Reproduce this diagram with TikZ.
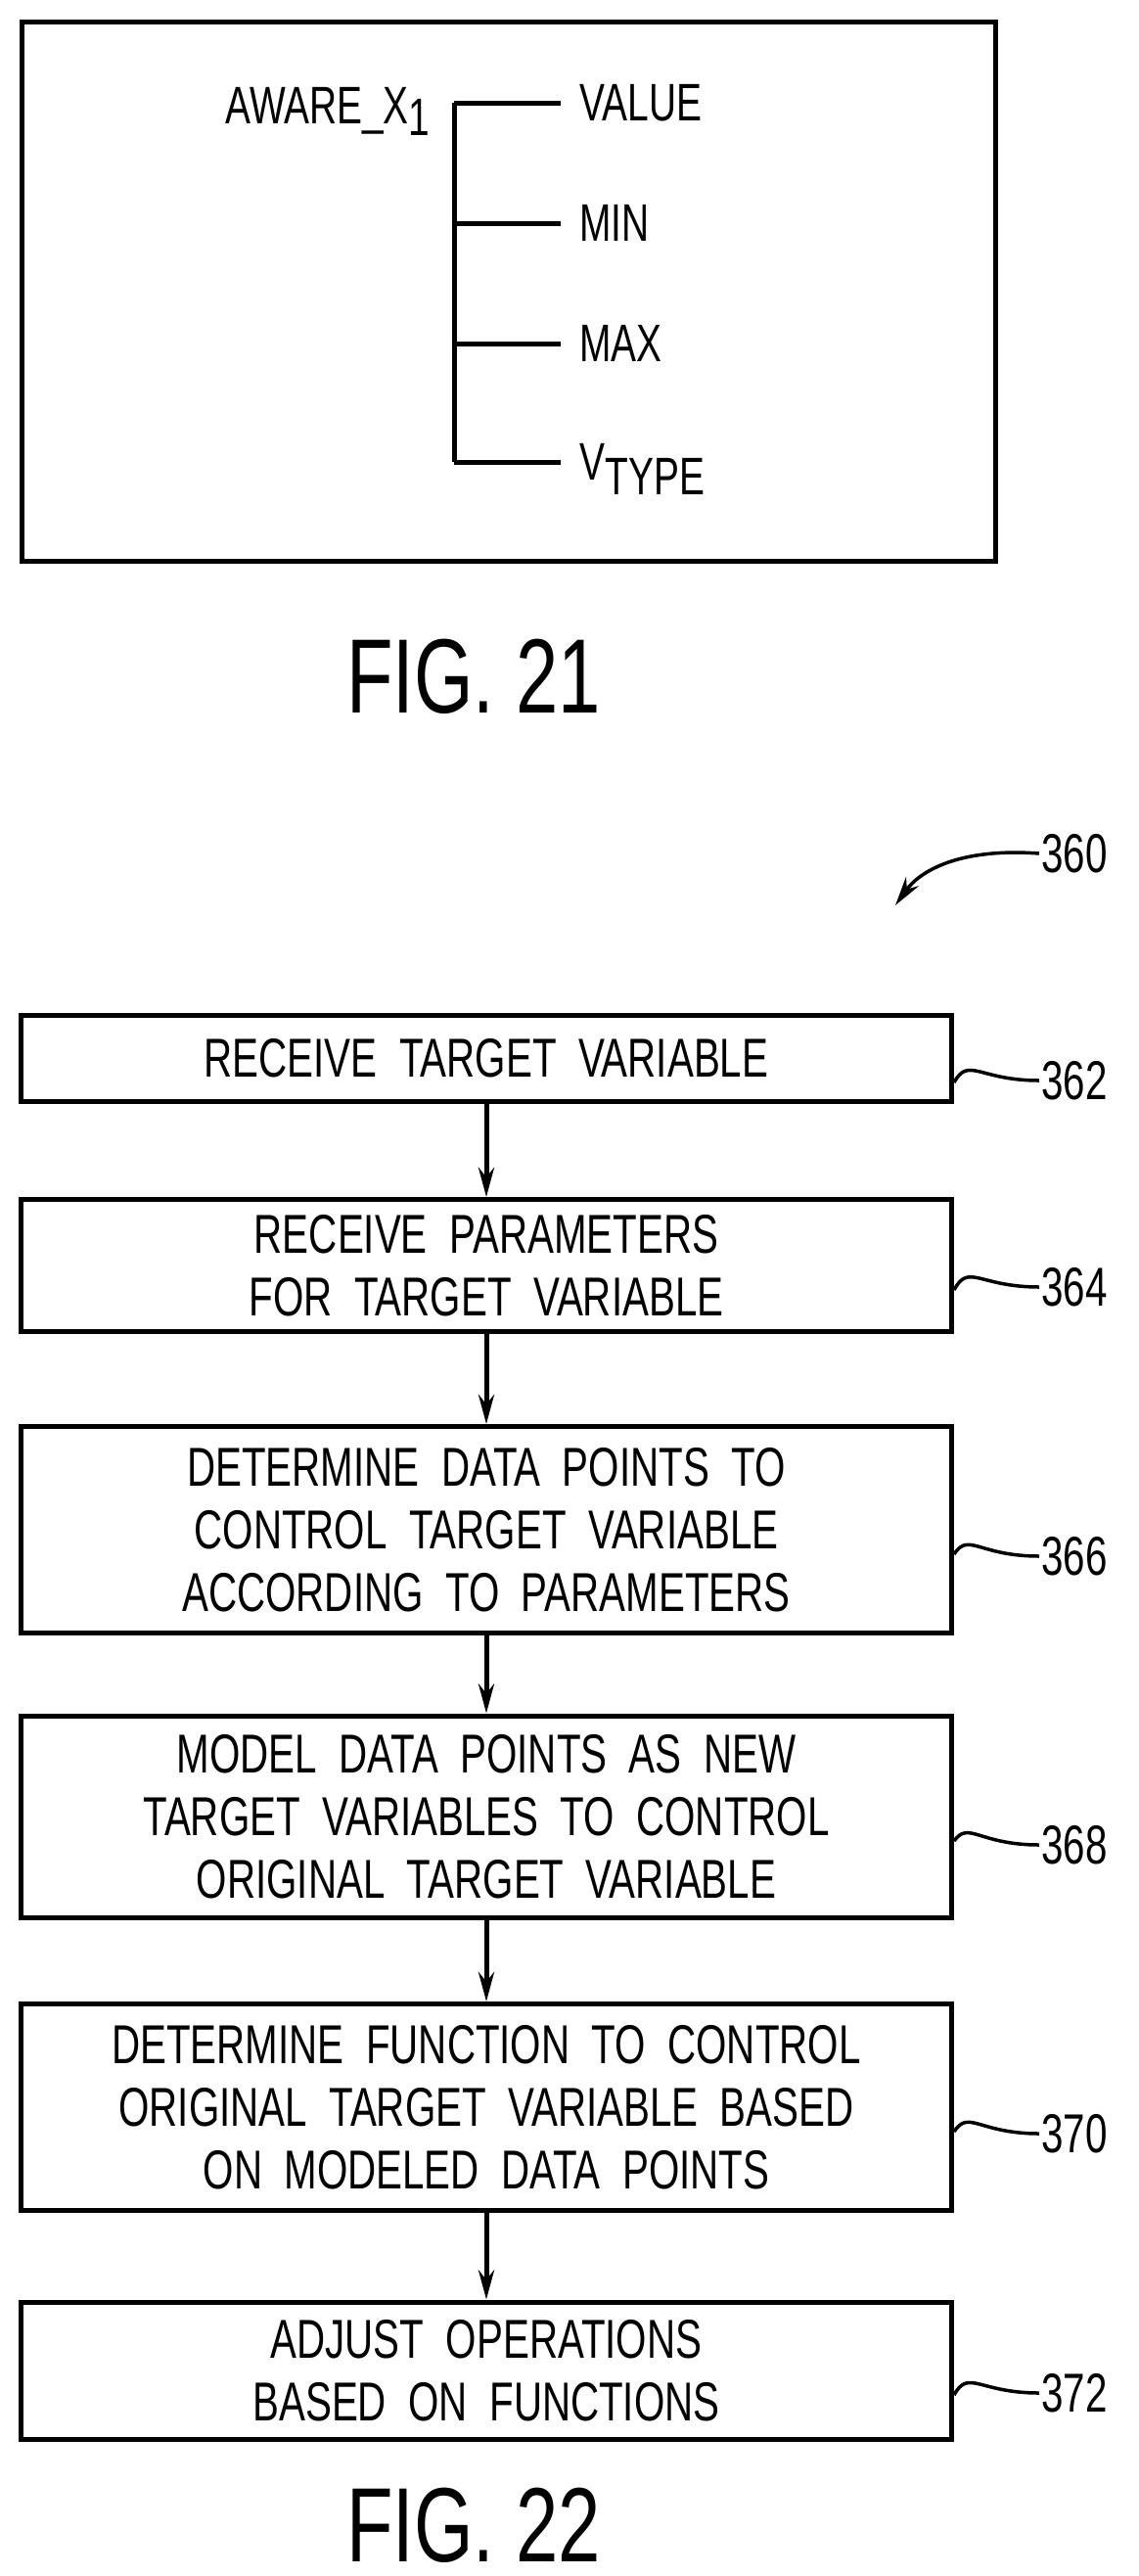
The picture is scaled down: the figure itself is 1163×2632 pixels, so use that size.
\documentclass[tikz,border=0pt]{standalone}
\usepackage{fontspec}
\setmainfont{Liberation Sans}[FakeStretch=0.72]
\usetikzlibrary{arrows.meta}
\begin{document}
\begin{tikzpicture}[x=1pt,y=-1pt,line width=5pt,
  box/.style={draw,minimum width=951pt,align=center,font=\fontsize{56}{64}\selectfont,inner sep=0pt},
  lab/.style={font=\fontsize{56}{60}\selectfont},
  fig/.style={font=\fontsize{108}{110}\selectfont},
  tree/.style={font=\fontsize{54}{56}\selectfont,anchor=base west,inner sep=0pt},
  arr/.style={-{Stealth[length=30pt,width=16pt]}}]
\useasboundingbox (0,0) rectangle (1163,2632);
\draw (22,22) rectangle (1017,573);
\node[tree,anchor=base east] (aw) at (442,126) {AWARE\_X\raisebox{-0.45ex}{1}};
\coordinate (t) at (464,105); \coordinate (b) at (464,472);
\draw (t) -- (b);
\foreach \y/\n/\t in {105/v/VALUE,228/mi/MIN,351/ma/MAX,472/vt/{V\raisebox{-0.55ex}{TYPE}}}{
  \coordinate (s\n) at (464,\y);
  \node[tree] (\n) at (590,\y+18) {\t};
  \draw (s\n) -- (573,\y);
}
\node[fig] (f21) at (484,691) {FIG. 21};
\node[box,minimum height=88pt] (b1) at (497,1081) {RECEIVE\ \ TARGET\ \ VARIABLE};
\node[box,minimum height=135pt] (b2) at (497,1293) {RECEIVE\ \ PARAMETERS\\FOR\ \ TARGET\ \ VARIABLE};
\node[box,minimum height=211pt] (b3) at (497,1563) {DETERMINE\ \ DATA\ \ POINTS\ \ TO\\CONTROL\ \ TARGET\ \ VARIABLE\\ACCORDING\ \ TO\ \ PARAMETERS};
\node[box,minimum height=206pt] (b4) at (497,1856) {MODEL\ \ DATA\ \ POINTS\ \ AS\ \ NEW\\TARGET\ \ VARIABLES\ \ TO\ \ CONTROL\\ORIGINAL\ \ TARGET\ \ VARIABLE};
\node[box,minimum height=211pt] (b5) at (497,2153) {DETERMINE\ \ FUNCTION\ \ TO\ \ CONTROL\\ORIGINAL\ \ TARGET\ \ VARIABLE\ \ BASED\\ON\ \ MODELED\ \ DATA\ \ POINTS};
\node[box,minimum height=140pt] (b6) at (497,2422) {ADJUST\ \ OPERATIONS\\BASED\ \ ON\ \ FUNCTIONS};
\foreach \a/\b in {b1/b2,b2/b3,b3/b4,b4/b5,b5/b6}{\draw[arr] (\a) -- (\b);}
\foreach \n/\y/\t in {b1/1104/362,b2/1315/364,b3/1590/366,b4/1885/368,b5/2180/370,b6/2445/372}{
  \node[lab,anchor=west,inner sep=0pt] (l\n) at (1062,\y) {\t};
  \coordinate (e\n) at ([yshift=-25pt]\n.east);
  \draw[line width=3.5pt] (e\n) .. controls (990,\y-25) and (1000,\y) .. (l\n.west);
}
\node[fig] (f22) at (484,2580) {FIG. 22};
\node[lab,anchor=west,inner sep=0pt] (l360) at (1062,872) {360};
\draw[arr,line width=3.5pt] (l360.west) .. controls (980,866) and (940,890) .. (915,925);
\end{tikzpicture}
\end{document}
